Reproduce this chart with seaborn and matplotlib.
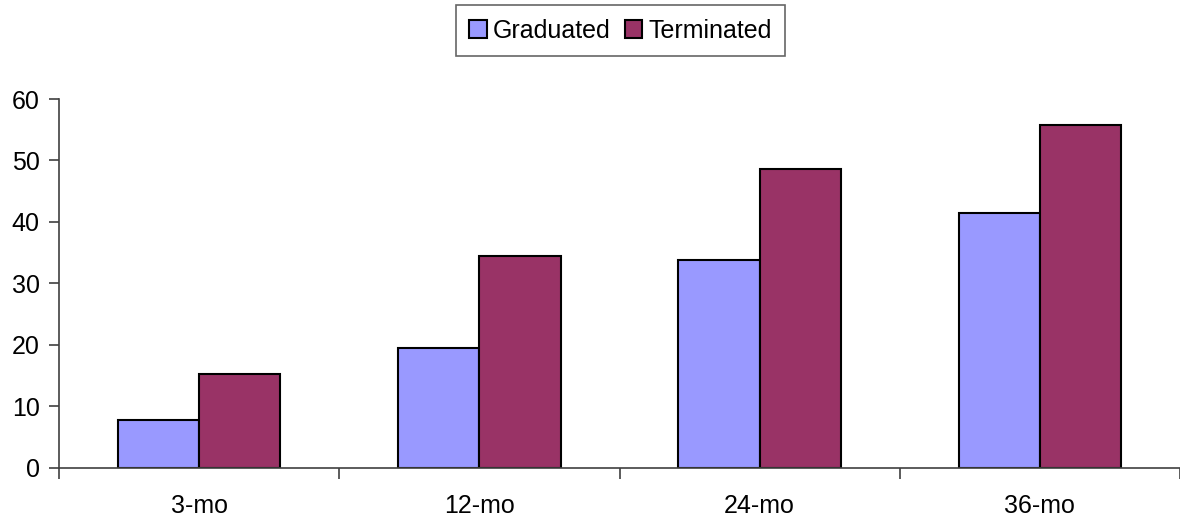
import matplotlib
matplotlib.use("Agg")
import matplotlib.pyplot as plt
import seaborn as sns
import pandas as pd

# Outcome rates by follow-up period
periods = ["3-mo", "12-mo", "24-mo", "36-mo"]
graduated = [7.8, 19.5, 33.8, 41.5]
terminated = [15.2, 34.4, 48.6, 55.8]
series_names = ["Graduated", "Terminated"]
y_ticks = [0, 10, 20, 30, 40, 50, 60]

df = pd.DataFrame({
    "period": periods * 2,
    "value": graduated + terminated,
    "group": [series_names[0]] * len(periods) + [series_names[1]] * len(periods),
})

sns.set_theme(style="white")
plt.rcParams["font.family"] = ["Liberation Sans", "DejaVu Sans"]
plt.rcParams["text.color"] = "black"

fig = plt.figure(figsize=(11.8, 5.2), dpi=100)
ax = fig.add_axes([0.05, 0.1006, 0.95, 0.709])

palette = {"Graduated": "#9999FF", "Terminated": "#993366"}
sns.barplot(data=df, x="period", y="value", hue="group", order=periods,
            hue_order=series_names, palette=palette, width=0.58, gap=0,
            edgecolor="black", linewidth=1.5, saturation=1, ax=ax)

ax.set_xlim(-0.5, len(periods) - 0.5)
ax.set_ylim(0, 60)
ax.set_yticks(y_ticks)
ax.set_xlabel("")
ax.set_ylabel("")

for side in ["top", "right"]:
    ax.spines[side].set_visible(False)
for side in ["left", "bottom"]:
    ax.spines[side].set_color("#404040")
    ax.spines[side].set_linewidth(1.2)

ax.tick_params(axis="y", which="major", direction="out", length=7, width=1.2,
               color="#404040", labelsize=18, pad=7, left=True)
ax.tick_params(axis="x", which="major", length=0, labelsize=18, pad=19)
ax.set_xticks([i - 0.5 for i in range(len(periods) + 1)], minor=True)
ax.tick_params(axis="x", which="minor", direction="out", length=8, width=1.2,
               color="#404040", bottom=True)
for lbl in ax.get_xticklabels() + ax.get_yticklabels():
    lbl.set_color("black")

ax.get_legend().remove()
handles, labels = ax.get_legend_handles_labels()
leg = fig.legend(handles, labels, loc="center",
                 bbox_to_anchor=(620.5 / 1180, 1 - 30.5 / 520),
                 ncol=2, fontsize=18, frameon=True, fancybox=False,
                 handlelength=0.7, handleheight=0.7, handletextpad=0.25,
                 columnspacing=0.55, borderpad=0.55, borderaxespad=0)
leg.get_frame().set_edgecolor("#404040")
leg.get_frame().set_linewidth(1.2)
for txt in leg.get_texts():
    txt.set_color("black")
for h in leg.legend_handles:
    h.set_edgecolor("black")
    h.set_linewidth(1.5)

fig.savefig("out.png", dpi=100, facecolor="white")
